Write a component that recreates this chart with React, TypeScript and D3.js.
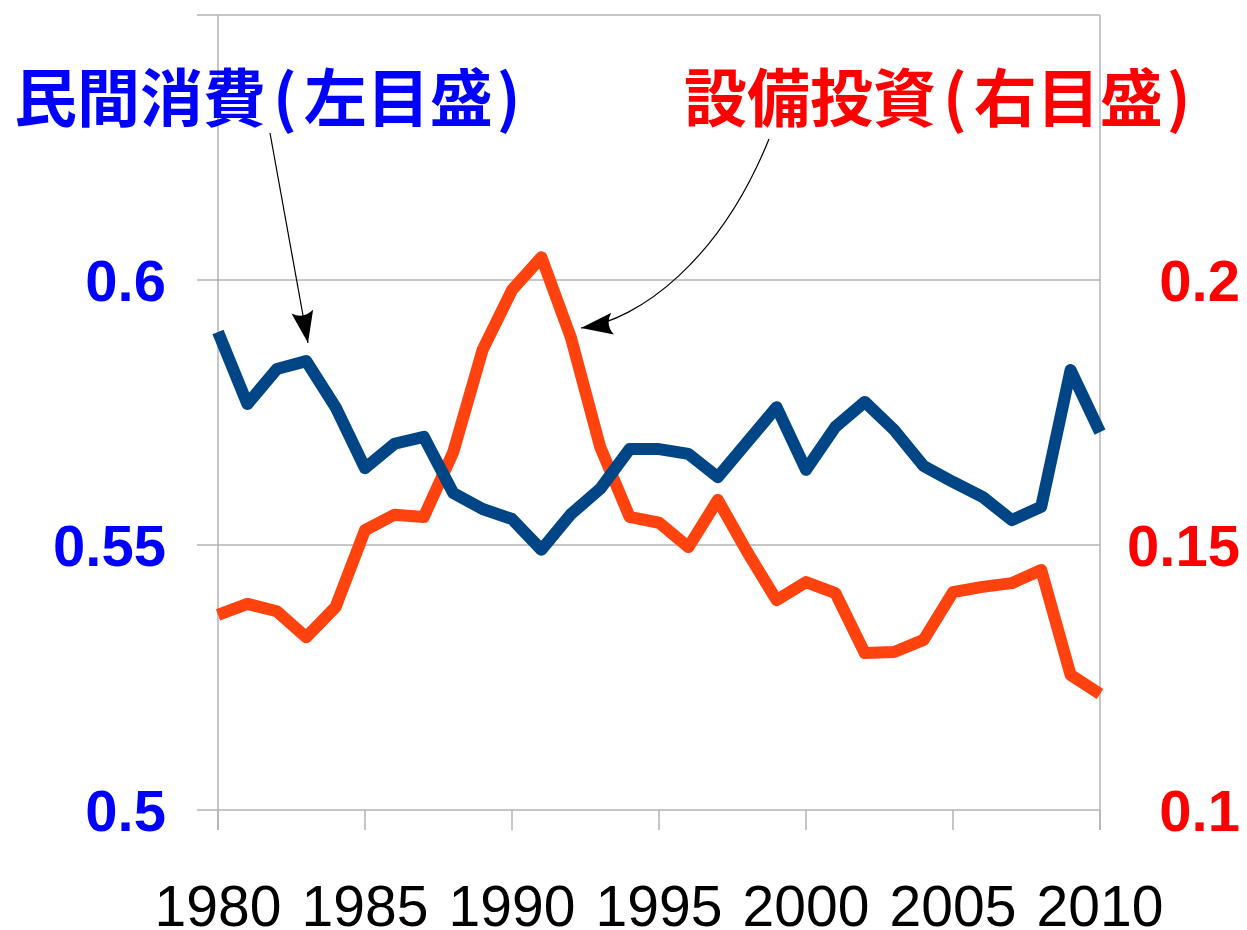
import React from "react";
import * as d3 from "d3";

const years = d3.range(1980, 2011);
const consumption = [
  0.5902, 0.5766, 0.5832, 0.5847, 0.576, 0.5645, 0.5691, 0.5704, 0.5598, 0.5568,
  0.5549, 0.5491, 0.5558, 0.5606, 0.5681, 0.5681, 0.5672, 0.5628, 0.5694, 0.576,
  0.5642, 0.5723, 0.577, 0.5717, 0.5649, 0.5619, 0.5591, 0.5547, 0.5572, 0.583,
  0.5713,
];
const investment = [
  0.1368, 0.1389, 0.1375, 0.1326, 0.1383, 0.1528, 0.1557, 0.1553, 0.1675, 0.1868,
  0.1981, 0.2043, 0.1892, 0.1685, 0.1553, 0.1542, 0.1496, 0.1585, 0.1487, 0.1396,
  0.143, 0.1409, 0.1296, 0.1298, 0.1321, 0.1411, 0.1421, 0.1428, 0.1453, 0.1255,
  0.1219,
];
const leftTicks = [0.5, 0.55, 0.6];
const leftGrid = [0.5, 0.55, 0.6, 0.65];
const rightTicks = [0.1, 0.15, 0.2];
const xTicks = [1980, 1985, 1990, 1995, 2000, 2005, 2010];
const titleLeftName = "民間消費";
const titleLeftNote = "左目盛";
const titleRightName = "設備投資";
const titleRightNote = "右目盛";

export default function App() {
  const x = d3.scaleLinear().domain([1980, 2010]).range([218, 1100]);
  const yL = d3.scaleLinear().domain([0.5, 0.65]).range([810, 15]);
  const yR = d3.scaleLinear().domain([0.1, 0.25]).range([810, 15]);

  const lineL = d3
    .line<number>()
    .x((_, i) => x(years[i]))
    .y((d) => yL(d));
  const lineR = d3
    .line<number>()
    .x((_, i) => x(years[i]))
    .y((d) => yR(d));

  const numFont = "'Liberation Sans', Arial, sans-serif";
  const cjkFont = "'Noto Sans CJK JP', 'Noto Sans CJK SC', sans-serif";
  const grid = "#b3b3b3";

  const title = (x0: number, name: string, note: string, color: string) => (
    <text x={x0} y={121} fontFamily={cjkFont} fontWeight="bold" fontSize={63} fill={color}>
      {name}
      <tspan dx={7}>(</tspan>
      <tspan dx={7}>{note}</tspan>
      <tspan dx={4}>)</tspan>
    </text>
  );

  return (
    <svg
      width={1247}
      height={930}
      style={{ position: "absolute", left: 0, top: 0, background: "#fff" }}
    >
      <defs>
        <marker
          id="ah"
          viewBox="0 0 32 22"
          refX={32}
          refY={11}
          markerWidth={32}
          markerHeight={22}
          markerUnits="userSpaceOnUse"
          orient="auto"
        >
          <path d="M0,0 L32,11 L0,22 Q8,11 0,0 Z" fill="#000" />
        </marker>
      </defs>

      {leftGrid.map((v) => (
        <line
          key={"g" + v}
          x1={197}
          x2={x(2010)}
          y1={yL(v)}
          y2={yL(v)}
          stroke={grid}
          strokeWidth={1.5}
        />
      ))}
      <line x1={x(1980)} x2={x(1980)} y1={yL(0.65)} y2={830} stroke={grid} strokeWidth={1.5} />
      <line x1={x(2010)} x2={x(2010)} y1={yL(0.65)} y2={830} stroke={grid} strokeWidth={1.5} />
      {xTicks.map((t) => (
        <line key={"t" + t} x1={x(t)} x2={x(t)} y1={810} y2={830} stroke={grid} strokeWidth={1.5} />
      ))}

      <path
        d={lineR(investment) || ""}
        fill="none"
        stroke="#ff420e"
        strokeWidth={12}
        strokeLinejoin="round"
      />
      <path
        d={lineL(consumption) || ""}
        fill="none"
        stroke="#004586"
        strokeWidth={12}
        strokeLinejoin="round"
      />

      {leftTicks.map((v) => (
        <text
          key={"l" + v}
          x={166}
          y={yL(v) + 21}
          textAnchor="end"
          fontFamily={numFont}
          fontWeight="bold"
          fontSize={58}
          fill="#0000ff"
        >
          {String(v)}
        </text>
      ))}
      {rightTicks.map((v) => (
        <text
          key={"r" + v}
          x={1240}
          y={yR(v) + 21}
          textAnchor="end"
          fontFamily={numFont}
          fontWeight="bold"
          fontSize={58}
          fill="#ff0000"
        >
          {String(v)}
        </text>
      ))}
      {xTicks.map((t) => (
        <text
          key={"x" + t}
          x={x(t)}
          y={926}
          textAnchor="middle"
          fontFamily={numFont}
          fontSize={57}
          fill="#000"
        >
          {String(t)}
        </text>
      ))}

      {title(14, titleLeftName, titleLeftNote, "#0000ff")}
      {title(684, titleRightName, titleRightNote, "#ff0000")}

      <line x1={270} y1={133} x2={308} y2={343} stroke="#000" strokeWidth={1.2} markerEnd="url(#ah)" />
      <path
        d="M769,139 C720,260 640,320 581,328"
        fill="none"
        stroke="#000"
        strokeWidth={1.2}
        markerEnd="url(#ah)"
      />
    </svg>
  );
}
